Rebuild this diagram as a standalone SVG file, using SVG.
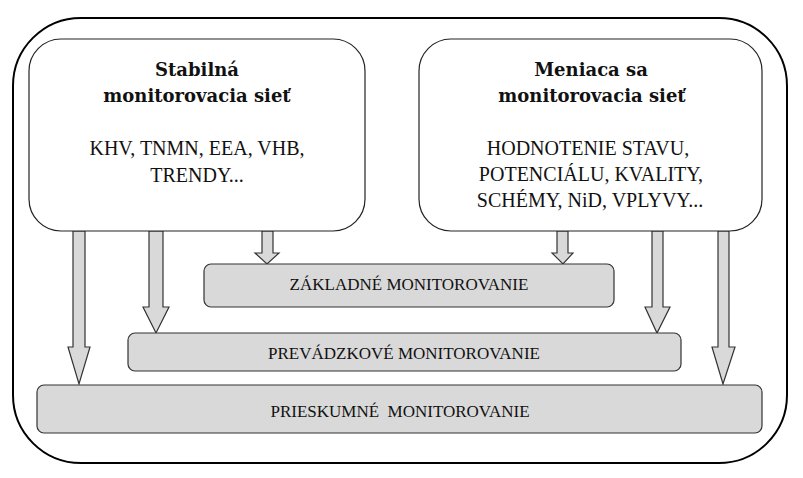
<svg xmlns="http://www.w3.org/2000/svg" width="803" height="478" viewBox="0 0 803 478">
<style>
.frame{fill:#fff;stroke:#000;stroke-width:2}
.box{fill:#fff;stroke:#222;stroke-width:1.2}
.bar{fill:#d9d9d9;stroke:#333;stroke-width:1.2}
.arr{fill:#d9d9d9;stroke:#333;stroke-width:1.2;stroke-linejoin:miter}
.t{font-family:"Liberation Serif","Times New Roman",serif;fill:#111;text-anchor:middle}
.h{font-family:"DejaVu Serif","Liberation Serif",serif;font-weight:bold;font-size:18px;fill:#111;text-anchor:middle}
.b{font-size:20px}
.s{font-size:17px}
</style>
<rect class="frame" x="13" y="18" width="774" height="445" rx="68" ry="68"/>
<g id="connectors">
<polygon class="arr" points="73,231 85,231 85,347 90,347 79,384 68,347 73,347"/>
<polygon class="arr" points="149,231 163,231 163,307 169,307 156,333 143,307 149,307"/>
<polygon class="arr" points="262,231 273,231 273,253 279,253 267,264 255,253 262,253"/>
<polygon class="arr" points="557,231 568,231 568,253 573,253 563,264 552,253 557,253"/>
<polygon class="arr" points="652,231 663,231 663,307 670,307 657,333 645,307 652,307"/>
<polygon class="arr" points="718,231 729,231 729,347 735,347 723,384 712,347 718,347"/>
</g>
<g id="stabilna">
<rect class="box" x="29" y="39" width="336" height="192" rx="32" ry="32"/>
<text class="h" x="197" y="76">Stabilná</text>
<text class="h" x="197" y="102">monitorovacia sieť</text>
<text class="t b" x="197" y="155">KHV, TNMN, EEA, VHB,</text>
<text class="t b" x="197" y="182">TRENDY...</text>
</g>
<g id="meniaca">
<rect class="box" x="419" y="39" width="343" height="192" rx="32" ry="32"/>
<text class="h" x="591" y="76">Meniaca sa</text>
<text class="h" x="592" y="102">monitorovacia sieť</text>
<text class="t b" x="588" y="155">HODNOTENIE STAVU,</text>
<text class="t b" x="591" y="181">POTENCIÁLU, KVALITY,</text>
<text class="t b" x="590" y="207">SCHÉMY, NiD, VPLYVY...</text>
</g>
<g id="zakladne">
<rect class="bar" x="204" y="264" width="410" height="43" rx="7" ry="7"/>
<text class="t s" x="409" y="290">ZÁKLADNÉ MONITOROVANIE</text>
</g>
<g id="prevadzkove">
<rect class="bar" x="128" y="333" width="553" height="38" rx="7" ry="7"/>
<text class="t s" x="404" y="359">PREVÁDZKOVÉ MONITOROVANIE</text>
</g>
<g id="prieskumne">
<rect class="bar" x="37" y="385" width="725" height="48" rx="7" ry="7"/>
<text class="t s" x="400" y="417" xml:space="preserve">PRIESKUMNÉ  MONITOROVANIE</text>
</g>
</svg>
